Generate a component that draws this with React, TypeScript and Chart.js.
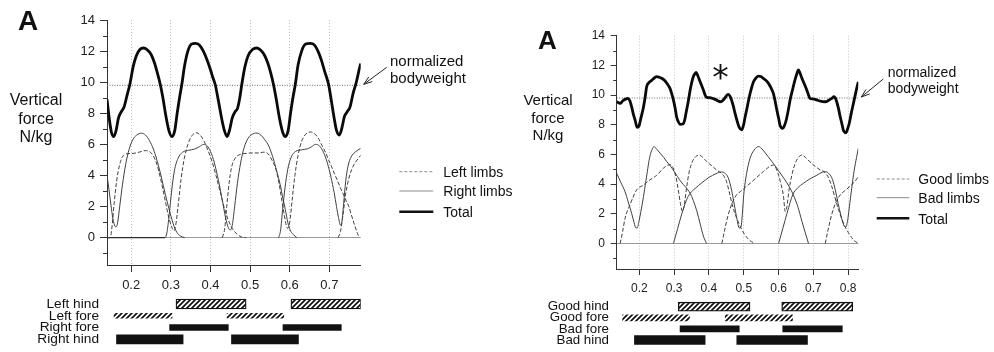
import React, { useEffect, useRef } from "react";
import { Chart, registerables } from "chart.js";

Chart.register(...registerables);

const FONT = '"Liberation Sans", Arial, Helvetica, sans-serif';
const BODYWEIGHT = 9.8;

// ---------- Left panel: left / right limbs ----------
const L_X_TICKS = [0.2, 0.3, 0.4, 0.5, 0.6, 0.7];
const L_Y_TICKS = [0, 2, 4, 6, 8, 10, 12, 14];
const L_Y_MINOR = [-1, 1, 3, 5, 7, 9, 11, 13];
const L_LEGEND = ["Left limbs", "Right limbs", "Total"];

const L_TOTAL = [
  [0.139, 8.9], [0.145, 7.6], [0.15, 6.8], [0.156, 6.5], [0.162, 6.9], [0.168, 7.7], [0.175, 8.1],
  [0.182, 8.4], [0.19, 9.2], [0.197, 9.9], [0.205, 11.0], [0.213, 11.7], [0.222, 12.1], [0.231, 12.2],
  [0.24, 12.1], [0.25, 11.8], [0.258, 11.3], [0.266, 10.6], [0.273, 9.9], [0.28, 9.0], [0.287, 7.9],
  [0.295, 6.9], [0.303, 6.5], [0.31, 6.9], [0.316, 8.0], [0.322, 9.0], [0.328, 9.9], [0.335, 11.1],
  [0.343, 12.0], [0.352, 12.45], [0.362, 12.5], [0.372, 12.4], [0.382, 12.0], [0.392, 11.4],
  [0.4, 10.8], [0.406, 10.3], [0.412, 9.85], [0.42, 8.8], [0.428, 7.7], [0.435, 6.9], [0.442, 6.5],
  [0.448, 6.9], [0.455, 7.7], [0.462, 8.1], [0.468, 8.3], [0.474, 9.0], [0.479, 9.85], [0.487, 11.0],
  [0.495, 11.7], [0.506, 12.1], [0.517, 12.2], [0.527, 12.05], [0.537, 11.7], [0.545, 11.2],
  [0.552, 10.6], [0.559, 9.85], [0.566, 8.9], [0.574, 7.7], [0.582, 6.8], [0.589, 6.5], [0.596, 6.9],
  [0.602, 8.0], [0.608, 9.0], [0.614, 9.85], [0.621, 11.1], [0.63, 12.0], [0.64, 12.45], [0.652, 12.5],
  [0.662, 12.4], [0.672, 11.95], [0.68, 11.4], [0.688, 10.7], [0.698, 9.85], [0.705, 8.8],
  [0.712, 7.7], [0.718, 6.9], [0.725, 6.6], [0.731, 7.0], [0.738, 7.8], [0.745, 8.1], [0.752, 8.4],
  [0.76, 9.3], [0.768, 10.0], [0.775, 10.8], [0.779, 11.2],
];

// left fore stance followed by left hind stance
const L_LEFT_A = [
  [0.139, 0], [0.147, 0], [0.152, 0.8], [0.157, 2.2], [0.163, 3.6], [0.17, 4.6], [0.178, 5.2],
  [0.19, 5.4], [0.205, 5.42], [0.22, 5.5], [0.235, 5.6], [0.245, 5.55], [0.255, 5.3], [0.265, 4.7],
  [0.275, 3.7], [0.285, 2.5], [0.294, 1.4], [0.302, 0.7], [0.308, 0.45], [0.313, 0.9], [0.319, 2.2],
  [0.326, 3.8], [0.334, 5.1], [0.343, 6.0], [0.353, 6.55], [0.364, 6.75], [0.374, 6.6], [0.384, 6.2],
  [0.394, 5.6], [0.404, 4.9], [0.414, 4.0], [0.424, 3.0], [0.434, 2.0], [0.444, 1.2], [0.455, 0.6],
  [0.466, 0.25], [0.478, 0.05], [0.49, 0],
];
const L_LEFT_B = [
  [0.43, 0], [0.436, 0.6], [0.441, 2.0], [0.447, 3.5], [0.453, 4.5], [0.462, 5.1], [0.475, 5.35],
  [0.49, 5.42], [0.505, 5.45], [0.52, 5.45], [0.535, 5.5], [0.545, 5.4], [0.555, 5.0], [0.565, 4.4],
  [0.573, 3.5], [0.58, 2.4], [0.586, 1.5], [0.591, 0.8], [0.595, 0.6], [0.6, 1.0], [0.606, 2.4],
  [0.613, 4.0], [0.621, 5.3], [0.63, 6.2], [0.64, 6.65], [0.652, 6.8], [0.662, 6.7], [0.672, 6.4],
  [0.681, 5.95], [0.69, 5.5], [0.698, 5.0], [0.705, 4.6], [0.713, 4.1], [0.72, 3.7], [0.728, 3.2],
  [0.735, 2.8], [0.742, 2.4], [0.749, 2.0], [0.755, 1.5], [0.76, 1.1], [0.765, 0.7], [0.769, 0.4],
  [0.773, 0.15], [0.777, 0],
];
const L_LEFT_C = [
  [0.722, 0], [0.728, 0.4], [0.734, 1.4], [0.741, 2.8], [0.75, 3.9], [0.76, 4.6], [0.77, 5.0], [0.779, 5.3],
];
// right fore stance followed by right hind stance
const L_RIGHT_A = [
  [0.139, 4.0], [0.144, 3.1], [0.149, 2.1], [0.154, 1.2], [0.159, 0.75], [0.162, 0.7], [0.166, 1.0],
  [0.171, 2.0], [0.178, 3.4], [0.186, 4.7], [0.195, 5.7], [0.204, 6.3], [0.214, 6.6], [0.226, 6.72],
  [0.236, 6.6], [0.246, 6.25], [0.256, 5.7], [0.266, 4.9], [0.276, 3.9], [0.286, 2.8], [0.296, 1.8],
  [0.306, 0.9], [0.315, 0.35], [0.325, 0.1], [0.335, 0],
];
const L_RIGHT_B = [
  [0.139, 0], [0.285, 0], [0.29, 0.3], [0.296, 1.5], [0.302, 3.0], [0.309, 4.3], [0.318, 5.1],
  [0.33, 5.5], [0.345, 5.62], [0.36, 5.7], [0.372, 5.85], [0.383, 6.0], [0.392, 5.9], [0.4, 5.55],
  [0.41, 4.8], [0.42, 3.7], [0.43, 2.4], [0.438, 1.3], [0.445, 0.65], [0.45, 0.5], [0.455, 0.8],
  [0.461, 2.0], [0.468, 3.5], [0.476, 4.8], [0.485, 5.8], [0.495, 6.4], [0.505, 6.65], [0.517, 6.73],
  [0.527, 6.6], [0.537, 6.3], [0.547, 5.9], [0.557, 5.2], [0.567, 4.3], [0.576, 3.4], [0.583, 2.5],
  [0.589, 1.8], [0.595, 1.0], [0.601, 0.5], [0.609, 0.2], [0.618, 0],
];
const L_RIGHT_C = [
  [0.572, 0], [0.577, 0.5], [0.582, 1.8], [0.588, 3.2], [0.595, 4.4], [0.604, 5.2], [0.615, 5.55],
  [0.63, 5.65], [0.645, 5.72], [0.655, 5.85], [0.665, 6.0], [0.675, 5.9], [0.685, 5.5], [0.695, 4.8],
  [0.704, 3.9], [0.712, 2.9], [0.718, 2.0], [0.723, 1.3], [0.728, 0.8], [0.732, 1.1], [0.736, 2.2],
  [0.741, 3.6], [0.747, 4.6], [0.755, 5.2], [0.765, 5.5], [0.779, 5.75],
];

const L_GAIT_ROWS = ["Left hind", "Left fore", "Right fore", "Right hind"];
const L_LEFT_HIND = [[0.313, 0.49], [0.603, 0.78]];
const L_LEFT_FORE = [[0.157, 0.303], [0.442, 0.585]];
const L_RIGHT_FORE = [[0.297, 0.445], [0.583, 0.73]];
const L_RIGHT_HIND = [[0.163, 0.331], [0.453, 0.622]];

// ---------- Right panel: good / bad limbs ----------
const R_X_TICKS = [0.2, 0.3, 0.4, 0.5, 0.6, 0.7, 0.8];
const R_Y_TICKS = [0, 2, 4, 6, 8, 10, 12, 14];
const R_Y_MINOR = [-1, 1, 3, 5, 7, 9, 11, 13];
const R_LEGEND = ["Good limbs", "Bad limbs", "Total"];

const R_TOTAL = [
  [0.135, 9.55], [0.145, 9.44], [0.152, 9.6], [0.159, 9.71], [0.168, 9.78], [0.173, 9.6], [0.178, 9.2],
  [0.183, 8.7], [0.188, 8.3], [0.194, 7.82], [0.199, 7.9], [0.204, 8.4], [0.212, 9.2], [0.217, 9.9],
  [0.221, 10.56], [0.228, 10.85], [0.236, 11.0], [0.243, 11.15], [0.25, 11.24], [0.257, 11.2],
  [0.264, 11.13], [0.272, 11.0], [0.279, 10.8], [0.288, 10.45], [0.293, 10.1], [0.298, 9.66],
  [0.303, 9.1], [0.307, 8.54], [0.312, 8.2], [0.317, 8.03], [0.325, 8.05], [0.33, 8.3], [0.334, 8.77],
  [0.34, 9.5], [0.346, 10.34], [0.351, 10.9], [0.355, 11.24], [0.36, 11.45], [0.363, 11.53],
  [0.368, 11.3], [0.373, 11.0], [0.379, 10.65], [0.384, 10.34], [0.389, 10.0], [0.394, 9.84],
  [0.403, 9.82], [0.41, 9.78], [0.418, 9.71], [0.425, 9.62], [0.432, 9.55], [0.437, 9.58],
  [0.441, 9.66], [0.447, 9.85], [0.452, 10.0], [0.456, 10.05], [0.461, 9.9], [0.465, 9.66],
  [0.47, 9.25], [0.475, 8.77], [0.481, 8.25], [0.487, 7.82], [0.494, 7.65], [0.499, 7.95],
  [0.504, 8.54], [0.51, 9.2], [0.516, 9.89], [0.522, 10.45], [0.528, 10.9], [0.535, 11.15],
  [0.542, 11.28], [0.549, 11.25], [0.556, 11.13], [0.564, 10.98], [0.571, 10.79], [0.578, 10.5],
  [0.585, 10.11], [0.59, 9.6], [0.595, 8.99], [0.6, 8.45], [0.604, 7.98], [0.608, 7.8], [0.612, 7.76],
  [0.617, 7.95], [0.622, 8.32], [0.628, 9.0], [0.633, 9.66], [0.64, 10.35], [0.647, 11.0],
  [0.652, 11.4], [0.657, 11.69], [0.662, 11.45], [0.667, 11.13], [0.674, 10.75], [0.681, 10.34],
  [0.686, 10.0], [0.69, 9.78], [0.697, 9.74], [0.705, 9.71], [0.712, 9.65], [0.719, 9.6],
  [0.727, 9.56], [0.734, 9.55], [0.741, 9.6], [0.748, 9.71], [0.754, 9.8], [0.759, 9.89],
  [0.763, 9.8], [0.767, 9.55], [0.772, 9.1], [0.777, 8.54], [0.782, 8.05], [0.786, 7.64],
  [0.79, 7.5], [0.794, 7.46], [0.798, 7.7], [0.803, 8.1], [0.809, 8.8], [0.815, 9.44], [0.822, 10.2],
  [0.829, 10.9],
];

// good fore stance followed by good hind stance
const R_GOOD_A = [
  [0.145, 0], [0.152, 0.8], [0.159, 1.7], [0.173, 2.6], [0.192, 3.6], [0.212, 3.94], [0.23, 4.28],
  [0.25, 4.6], [0.269, 5.07], [0.283, 5.29], [0.29, 5.3], [0.297, 5.1], [0.305, 4.5], [0.312, 3.6],
  [0.318, 2.7], [0.324, 2.15], [0.329, 2.6], [0.336, 3.8], [0.343, 4.8], [0.352, 5.5], [0.362, 5.85],
  [0.372, 5.96], [0.382, 5.8], [0.394, 5.51], [0.41, 5.2], [0.422, 4.95], [0.432, 4.8], [0.441, 4.6],
  [0.45, 4.2], [0.458, 3.5], [0.466, 2.7], [0.475, 2.0], [0.487, 1.3], [0.5, 0.7], [0.515, 0.25],
  [0.532, 0],
];
const R_GOOD_B = [
  [0.437, 0], [0.445, 0.9], [0.455, 1.9], [0.468, 2.8], [0.48, 3.3], [0.49, 3.49], [0.505, 3.8],
  [0.518, 4.05], [0.537, 4.45], [0.556, 4.84], [0.572, 5.15], [0.585, 5.29], [0.593, 5.05],
  [0.6, 4.6], [0.607, 4.0], [0.614, 3.2], [0.619, 2.15], [0.624, 2.5], [0.63, 3.6], [0.638, 4.6],
  [0.647, 5.35], [0.657, 5.8], [0.667, 5.96], [0.677, 5.8], [0.69, 5.5], [0.705, 5.2], [0.72, 4.95],
  [0.733, 4.8], [0.742, 4.5], [0.752, 3.9], [0.762, 3.1], [0.772, 2.3], [0.785, 1.45], [0.8, 0.75],
  [0.815, 0.25], [0.829, 0],
];
const R_GOOD_C = [
  [0.734, 0], [0.742, 0.9], [0.752, 1.9], [0.765, 2.8], [0.778, 3.3], [0.79, 3.55], [0.805, 3.85],
  [0.818, 4.15], [0.829, 4.5],
];
// bad fore stance followed by bad hind stance
const R_BAD_A = [
  [0.135, 4.73], [0.147, 4.1], [0.159, 3.49], [0.168, 2.8], [0.178, 2.03], [0.185, 1.4], [0.19, 1.05],
  [0.194, 1.05], [0.199, 1.5], [0.204, 2.1], [0.212, 3.16], [0.218, 4.1], [0.223, 4.84], [0.228, 5.6],
  [0.233, 6.1], [0.238, 6.4], [0.242, 6.53], [0.25, 6.35], [0.26, 6.08], [0.27, 5.8], [0.279, 5.51],
  [0.29, 5.2], [0.3, 4.85], [0.31, 4.5], [0.32, 4.15], [0.333, 3.8], [0.346, 3.38], [0.355, 2.9],
  [0.365, 2.2], [0.375, 1.3], [0.384, 0.5], [0.393, 0],
];
const R_BAD_B = [
  [0.298, 0], [0.31, 1.0], [0.322, 2.0], [0.335, 2.9], [0.346, 3.38], [0.36, 3.7], [0.38, 4.1],
  [0.4, 4.45], [0.42, 4.7], [0.435, 4.82], [0.445, 4.75], [0.455, 4.45], [0.465, 3.6], [0.473, 2.6],
  [0.48, 1.7], [0.487, 1.05], [0.492, 1.1], [0.496, 2.0], [0.5, 3.3], [0.508, 4.7], [0.518, 5.74],
  [0.53, 6.3], [0.542, 6.53], [0.555, 6.3], [0.57, 5.85], [0.585, 5.4], [0.6, 4.9], [0.615, 4.4],
  [0.63, 3.85], [0.642, 3.3], [0.655, 2.5], [0.667, 1.5], [0.677, 0.7], [0.686, 0],
];
const R_BAD_C = [
  [0.6, 0], [0.612, 1.0], [0.625, 2.1], [0.641, 3.3], [0.655, 3.75], [0.671, 4.05], [0.69, 4.35],
  [0.71, 4.6], [0.725, 4.8], [0.735, 4.84], [0.745, 4.7], [0.755, 4.3], [0.763, 3.6], [0.771, 2.7],
  [0.779, 1.9], [0.787, 1.25], [0.793, 1.1], [0.798, 1.5], [0.803, 2.4], [0.81, 3.7], [0.817, 4.9],
  [0.824, 5.8], [0.829, 6.4],
];

const R_GAIT_ROWS = ["Good hind", "Good fore", "Bad fore", "Bad hind"];
const R_GOOD_HIND = [[0.312, 0.518], [0.609, 0.813]];
const R_GOOD_FORE = [[0.152, 0.344], [0.447, 0.64]];
const R_BAD_FORE = [[0.317, 0.487], [0.612, 0.783]];
const R_BAD_HIND = [[0.186, 0.389], [0.48, 0.683]];

// ---------- chart builders ----------
const xy = (pts: number[][]) => pts.map(([x, y]) => ({ x, y }));

const LIMB_COLOR = "#404040";

function limbSet(pts: number[][], dashed: boolean, darkRest = false) {
  const ds: any = {
    data: xy(pts),
    borderColor: LIMB_COLOR,
    borderWidth: 1,
    borderDash: dashed ? [4, 2] : [],
    pointRadius: 0,
    cubicInterpolationMode: "monotone",
    fill: false,
  };
  if (darkRest) {
    ds.segment = {
      borderColor: (c: any) => (c.p0.parsed.y === 0 && c.p1.parsed.y === 0 ? "#111" : undefined),
    };
  }
  return ds;
}

const LEGEND_KEYS = [
  { color: "#8c8c8c", width: 1, dash: [3, 2] },
  { color: "#8c8c8c", width: 1, dash: [] as number[] },
  { color: "#111", width: 2.5, dash: [] as number[] },
];

function decorPlugin(p: any) {
  return {
    id: "decor",
    afterDraw(chart: any) {
      const { ctx, chartArea: a } = chart;
      const y = chart.scales.y;
      ctx.save();
      ctx.strokeStyle = "#333";
      ctx.lineWidth = 1;
      ctx.setLineDash([]);
      p.yMinor.forEach((v: number) => {
        const py = Math.round(y.getPixelForValue(v)) + 0.5;
        ctx.beginPath();
        ctx.moveTo(a.left - p.minorLen, py);
        ctx.lineTo(a.left, py);
        ctx.stroke();
      });
      // arrow pointing at the bodyweight line
      const tx = a.right + 3;
      const ty = y.getPixelForValue(BODYWEIGHT) - 1;
      const fx = tx + p.arrow[0];
      const fy = ty + p.arrow[1];
      ctx.strokeStyle = "#222";
      ctx.beginPath();
      ctx.moveTo(fx, fy);
      ctx.lineTo(tx, ty);
      ctx.stroke();
      const ang = Math.atan2(fy - ty, fx - tx);
      [-0.33, 0.33].forEach((d) => {
        ctx.beginPath();
        ctx.moveTo(tx, ty);
        ctx.lineTo(tx + 9 * Math.cos(ang + d), ty + 9 * Math.sin(ang + d));
        ctx.stroke();
      });
      // legend keys
      LEGEND_KEYS.forEach((k, i) => {
        ctx.strokeStyle = k.color;
        ctx.lineWidth = k.width;
        ctx.setLineDash(k.dash);
        ctx.beginPath();
        ctx.moveTo(p.legendX[0], p.legendY[i]);
        ctx.lineTo(p.legendX[1], p.legendY[i]);
        ctx.stroke();
      });
      ctx.restore();
    },
  };
}

function forceChart(canvas: HTMLCanvasElement, p: any) {
  const tickFont = { family: FONT, size: p.fontSize };
  return new Chart(canvas, {
    type: "line",
    data: {
      datasets: [
        {
          data: xy(p.total),
          borderColor: "#0a0a0a",
          borderWidth: 2.8,
          pointRadius: 0,
          cubicInterpolationMode: "monotone",
          fill: false,
        },
        ...p.dashed.map((s: number[][]) => limbSet(s, true)),
        ...p.solid.map((s: number[][], i: number) => limbSet(s, false, p.darkRest === i)),
        {
          data: [
            { x: p.xMin, y: BODYWEIGHT },
            { x: p.xMax, y: BODYWEIGHT },
          ],
          borderColor: "#6a6a6a",
          borderWidth: 1,
          borderDash: [1, 1.5],
          pointRadius: 0,
        },
      ],
    } as any,
    options: {
      responsive: false,
      animation: false,
      devicePixelRatio: 1,
      events: [],
      layout: { padding: p.padding },
      plugins: { legend: { display: false }, tooltip: { enabled: false } },
      scales: {
        x: {
          type: "linear",
          min: p.xMin,
          max: p.xMax,
          afterBuildTicks: (s: any) => {
            s.ticks = p.xTicks.map((v: number) => ({ value: v }));
          },
          afterFit: (s: any) => {
            s.height = 24;
          },
          ticks: {
            callback: (v: any) => Number(v).toFixed(1),
            font: tickFont,
            color: "#222",
            padding: p.xTickPad,
            maxRotation: 0,
            autoSkip: false,
          },
          grid: { color: "#c4c4c4", lineWidth: 1, tickLength: p.xTickLen, tickColor: "#333" },
          border: { color: "#333", width: 1, dash: [1, 2] },
        },
        y: {
          type: "linear",
          min: p.yMin,
          max: p.yMax,
          afterBuildTicks: (s: any) => {
            s.ticks = p.yTicks.map((v: number) => ({ value: v }));
          },
          afterFit: (s: any) => {
            s.width = 50;
          },
          ticks: {
            callback: (v: any) => String(v),
            font: tickFont,
            color: "#222",
            padding: p.yTickPad,
            autoSkip: false,
          },
          grid: {
            color: (c: any) => (c.tick && c.tick.value === 0 ? "#9a9a9a" : "rgba(0,0,0,0)"),
            lineWidth: 1,
            tickLength: p.yTickLen,
            tickColor: "#333",
          },
          border: { color: "#333", width: 1 },
        },
      },
    } as any,
    plugins: [decorPlugin(p)],
  });
}

function hatch(bg: string | null) {
  const size = 5;
  const c = document.createElement("canvas");
  c.width = size;
  c.height = size;
  const g = c.getContext("2d")!;
  if (bg) {
    g.fillStyle = bg;
    g.fillRect(0, 0, size, size);
  }
  g.strokeStyle = "#111";
  g.lineWidth = 1.7;
  g.beginPath();
  g.moveTo(0, size);
  g.lineTo(size, 0);
  g.moveTo(-size / 2, size / 2);
  g.lineTo(size / 2, -size / 2);
  g.moveTo(size / 2, size * 1.5);
  g.lineTo(size * 1.5, size / 2);
  g.stroke();
  return g.createPattern(c, "repeat");
}

function gaitChart(canvas: HTMLCanvasElement, g: any) {
  const boxed = hatch("#ffffff");
  const open = hatch(null);
  const styles = [
    { fill: boxed, border: 1.3, thickness: g.thick[0] },
    { fill: open, border: 0, thickness: g.thick[1] },
    { fill: "#111", border: 0, thickness: g.thick[2] },
    { fill: "#111", border: 0, thickness: g.thick[3] },
  ];
  return new Chart(canvas, {
    type: "bar",
    data: {
      labels: g.rows,
      datasets: g.spans.map((spans: number[][], i: number) => ({
        data: spans.map((s) => ({ x: s, y: g.rows[i] })),
        backgroundColor: styles[i].fill,
        borderColor: "#111",
        borderWidth: styles[i].border,
        borderSkipped: false,
        barThickness: styles[i].thickness,
        grouped: false,
      })),
    } as any,
    options: {
      indexAxis: "y",
      responsive: false,
      animation: false,
      devicePixelRatio: 1,
      events: [],
      layout: { padding: g.padding },
      plugins: { legend: { display: false }, tooltip: { enabled: false } },
      scales: {
        x: { type: "linear", min: g.xMin, max: g.xMax, display: false },
        y: {
          type: "category",
          afterFit: (s: any) => {
            // rows fill the box set by the layout padding
            s.width = 100;
            s.paddingTop = 0;
            s.paddingBottom = 0;
          },
          grid: { display: false, drawTicks: false },
          border: { display: false },
          ticks: { font: { family: FONT, size: g.labelSize }, color: "#111", padding: g.labelPad, autoSkip: false },
        },
      },
    } as any,
  });
}

// ---------- panel settings ----------
const LEFT_FORCE = {
  xMin: 0.139, xMax: 0.779, xTicks: L_X_TICKS,
  yMin: -1.755, yMax: 14, yTicks: L_Y_TICKS, yMinor: L_Y_MINOR, minorLen: 4,
  padding: { left: 57, right: 136.3, top: 20, bottom: 1 },
  fontSize: 13, yTickLen: 7, yTickPad: 5, xTickLen: 7, xTickPad: 6,
  total: L_TOTAL,
  dashed: [L_LEFT_A, L_LEFT_B, L_LEFT_C],
  solid: [L_RIGHT_A, L_RIGHT_B, L_RIGHT_C],
  darkRest: 1,
  arrow: [23, -17],
  legendX: [399.3, 433.3],
  legendY: [171.7, 191, 211.7],
};

const RIGHT_FORCE = {
  xMin: 0.135, xMax: 0.829, xTicks: R_X_TICKS,
  yMin: -1.718, yMax: 14, yTicks: R_Y_TICKS, yMinor: R_Y_MINOR, minorLen: 3.5,
  padding: { left: 69.7, right: 135.7, top: 35.7, bottom: 2 },
  fontSize: 12, yTickLen: 6, yTickPad: 5.7, xTickLen: 6, xTickPad: 6,
  total: R_TOTAL,
  dashed: [R_GOOD_A, R_GOOD_B, R_GOOD_C],
  solid: [R_BAD_A, R_BAD_B, R_BAD_C],
  darkRest: -1,
  arrow: [22, -18],
  legendX: [379.7, 412.3],
  legendY: [179, 197.7, 218.3],
};

const LEFT_GAIT = {
  xMin: 0.139, xMax: 0.779,
  rows: L_GAIT_ROWS,
  spans: [L_LEFT_HIND, L_LEFT_FORE, L_RIGHT_FORE, L_RIGHT_HIND],
  thick: [10, 5, 6, 9],
  padding: { left: 7, right: 136.3, top: 8.1, bottom: 6.8 },
  labelPad: 8,
  labelSize: 13.7,
};

const RIGHT_GAIT = {
  xMin: 0.135, xMax: 0.829,
  rows: R_GAIT_ROWS,
  spans: [R_GOOD_HIND, R_GOOD_FORE, R_BAD_FORE, R_BAD_HIND],
  thick: [9, 6, 6, 9],
  padding: { left: 19.7, right: 135.7, top: 11.15, bottom: 6.45 },
  labelPad: 7.7,
  labelSize: 13.3,
};

const abs = (left: number, top: number, extra: React.CSSProperties = {}): React.CSSProperties => ({
  position: "absolute",
  left,
  top,
  whiteSpace: "nowrap",
  ...extra,
});

export default function App() {
  const lf = useRef<HTMLCanvasElement>(null);
  const lg = useRef<HTMLCanvasElement>(null);
  const rf = useRef<HTMLCanvasElement>(null);
  const rg = useRef<HTMLCanvasElement>(null);

  useEffect(() => {
    const charts = [
      forceChart(lf.current!, LEFT_FORCE),
      gaitChart(lg.current!, LEFT_GAIT),
      forceChart(rf.current!, RIGHT_FORCE),
      gaitChart(rg.current!, RIGHT_GAIT),
    ];
    return () => charts.forEach((c) => c.destroy());
  }, []);

  return (
    <div
      style={{
        position: "absolute",
        left: 0,
        top: 0,
        width: 994,
        height: 352,
        overflow: "hidden",
        background: "#fff",
        fontFamily: FONT,
        color: "#111",
      }}
    >
      <canvas ref={lf} width={497} height={290} style={{ position: "absolute", left: 0, top: 0 }} />
      <canvas ref={rf} width={497} height={295} style={{ position: "absolute", left: 497, top: 0 }} />
      <canvas ref={lg} width={497} height={62} style={{ position: "absolute", left: 0, top: 290 }} />
      <canvas ref={rg} width={497} height={62} style={{ position: "absolute", left: 497, top: 290 }} />

      {/* left panel text */}
      <div style={abs(18, 6.8, { fontSize: 28, fontWeight: "bold", lineHeight: "28px" })}>A</div>
      <div style={abs(-4, 91.3, { width: 80, textAlign: "center", fontSize: 16, lineHeight: "18.5px" })}>
        Vertical
        <br />
        force
        <br />
        N/kg
      </div>
      <div style={abs(390, 51.5, { fontSize: 15, lineHeight: "17px" })}>
        normalized
        <br />
        bodyweight
      </div>
      {L_LEGEND.map((t, i) => (
        <div key={t} style={abs(443.3, LEFT_FORCE.legendY[i] - 6.6, { fontSize: 14, lineHeight: "14px" })}>
          {t}
        </div>
      ))}

      {/* right panel text */}
      <div style={abs(538, 27, { fontSize: 26, fontWeight: "bold", lineHeight: "26px" })}>A</div>
      <div style={abs(508, 91, { width: 80, textAlign: "center", fontSize: 15, lineHeight: "17.5px" })}>
        Vertical
        <br />
        force
        <br />
        N/kg
      </div>
      <div style={abs(887.7, 63.8, { fontSize: 14, lineHeight: "16.5px" })}>
        normalized
        <br />
        bodyweight
      </div>
      <div
        style={abs(698.5, 61, {
          width: 44,
          textAlign: "center",
          fontSize: 33,
          lineHeight: "33px",
          fontFamily: '"DejaVu Sans", sans-serif',
        })}
      >
        *
      </div>
      {R_LEGEND.map((t, i) => (
        <div key={t} style={abs(918.3, RIGHT_FORCE.legendY[i] - 6.6, { fontSize: 14, lineHeight: "14px" })}>
          {t}
        </div>
      ))}
    </div>
  );
}
